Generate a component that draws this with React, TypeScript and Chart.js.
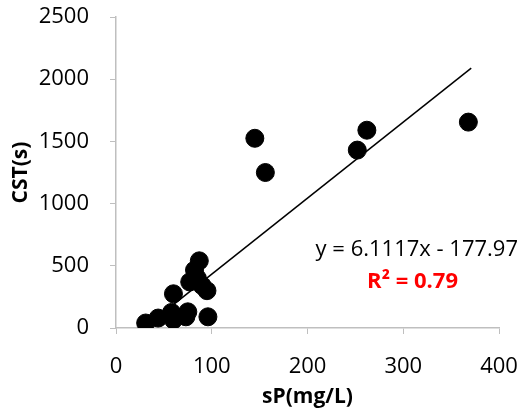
import React, { useEffect, useRef } from "react";
import { Chart, registerables } from "chart.js";

Chart.register(...registerables);

const spX = [31, 44, 58, 60, 60, 73, 75, 77, 82, 85, 87, 90, 95, 96, 145, 156, 252, 262, 368];
const cstY = [40, 80, 125, 65, 275, 90, 130, 370, 465, 400, 540, 340, 300, 90, 1525, 1250, 1430, 1590, 1655];
const slope = 6.1117;
const intercept = -177.97;
const trendX = [31, 371];
const eqText = "y = 6.1117x - 177.97";
const r2Text = "R\u00b2 = 0.79";
const xTicks = [0, 100, 200, 300, 400];
const yTicks = [0, 500, 1000, 1500, 2000, 2500];

const FONT = "'Open Sans', Lato, sans-serif";

export default function App() {
  const ref = useRef<HTMLCanvasElement>(null);
  useEffect(() => {
    document.body.style.margin = "0";
    const ctx = ref.current!.getContext("2d")!;
    const annotate = {
      id: "annotate",
      afterDatasetsDraw(chart: any) {
        const c = chart.ctx;
        c.save();
        c.textAlign = "right";
        c.textBaseline = "middle";
        c.fillStyle = "#000";
        c.font = `22px ${FONT}`;
        c.fillText(eqText, 518, 250);
        c.fillStyle = "#ff0000";
        c.font = `bold 22px ${FONT}`;
        c.fillText(r2Text, 458, 282);
        c.restore();
      },
    };
    const chart = new Chart(ctx, {
      type: "scatter",
      data: {
        datasets: [
          {
            type: "line",
            data: trendX.map((x) => ({ x, y: slope * x + intercept })),
            borderColor: "#000",
            borderWidth: 1.5,
            pointRadius: 0,
            fill: false,
          } as any,
          {
            data: spX.map((x, i) => ({ x, y: cstY[i] })),
            backgroundColor: "#000",
            borderColor: "#000",
            pointRadius: 9,
            pointHoverRadius: 9,
          },
        ],
      },
      options: {
        animation: false,
        responsive: false,
        plugins: { legend: { display: false }, tooltip: { enabled: false } },
        layout: { padding: { top: 17, right: 26, left: 0, bottom: 0 } },
        scales: {
          x: {
            type: "linear",
            min: 0,
            max: 400,
            afterBuildTicks: (s: any) => { s.ticks = xTicks.map((v) => ({ value: v })); },
            afterFit: (s: any) => { s.height = 84; s.paddingLeft = 0; s.paddingRight = 0; },
            grid: { drawOnChartArea: false, drawTicks: true, tickLength: 6, color: "#bfbfbf" },
            border: { color: "#bfbfbf", width: 1.5 },
            ticks: { color: "#000", font: { family: FONT, size: 22 }, padding: 20, maxRotation: 0, callback: (v: any) => String(v) },
            title: { display: true, text: "sP(mg/L)", color: "#000", font: { family: FONT, size: 21, weight: "bold" }, padding: { top: 0, bottom: 2 } },
          },
          y: {
            type: "linear",
            min: 0,
            max: 2500,
            afterBuildTicks: (s: any) => { s.ticks = yTicks.map((v) => ({ value: v })); },
            afterFit: (s: any) => { s.width = 116; s.paddingTop = 0; s.paddingBottom = 0; },
            grid: { drawOnChartArea: false, drawTicks: true, tickLength: 6, color: "#bfbfbf" },
            border: { color: "#bfbfbf", width: 1.5 },
            ticks: { color: "#000", font: { family: FONT, size: 22 }, padding: 21, callback: (v: any) => String(v) },
            title: { display: true, text: "CST(s)", color: "#000", font: { family: FONT, size: 21, weight: "bold" }, padding: { top: 8, bottom: 0 } },
          },
        },
      },
      plugins: [annotate],
    });
    return () => chart.destroy();
  }, []);
  return (
    <div style={{ position: "absolute", left: 0, top: 0, width: 525, height: 412, background: "#fff" }}>
      <canvas ref={ref} width={525} height={412} />
    </div>
  );
}
